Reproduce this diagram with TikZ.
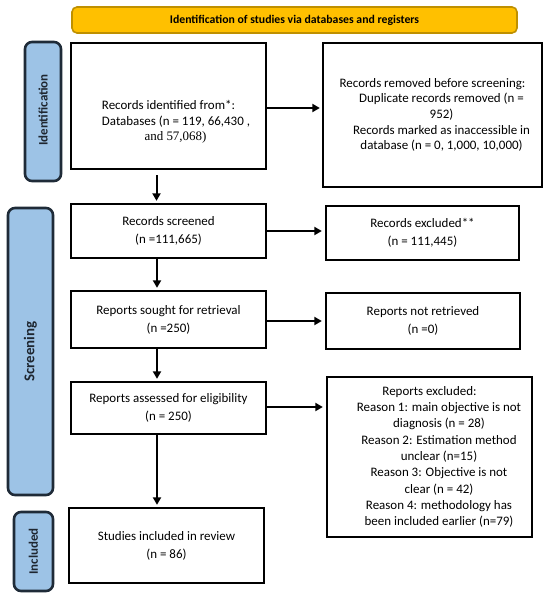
\documentclass[tikz,border=0pt]{standalone}
\usepackage{fontspec}
\setmainfont{Carlito}
\newfontfamily\serifpart{Liberation Serif}
\usetikzlibrary{arrows.meta}
\definecolor{sideblue}{HTML}{9DC3E6}
\definecolor{sideline}{HTML}{1F2B38}
\definecolor{sidetext}{HTML}{1E2630}
\definecolor{titlefill}{HTML}{FFC000}
\definecolor{titleline}{HTML}{BF9000}
\begin{document}
\begin{tikzpicture}[x=1bp,y=-1bp,
  box/.style={draw=black, line width=2.3bp, fill=white, inner sep=0pt, align=center,
    font=\fontsize{13}{18}\selectfont},
  txt/.style={inner sep=0pt, align=center},
  side/.style={draw=sideline, fill=sideblue, line width=2.6bp, rounded corners=7bp, inner sep=0pt},
  sidelabel/.style={rotate=90, text=sidetext, font=\bfseries\fontsize{13}{15}\selectfont},
  arr/.style={draw=black, line width=2bp, -{Triangle[length=7.5bp,width=8bp]}},
  titlebar/.style={draw=titleline, fill=titlefill, line width=1.6bp, rounded corners=5bp,
    inner sep=0pt, font=\bfseries\fontsize{11.8}{13}\selectfont}
]
\useasboundingbox[fill=white] (0,0) rectangle (550,600);

% title
\node[titlebar, minimum width=445bp, minimum height=26bp] (title) at (294.5,20)
  {Identification of studies via databases and registers};

% side labels
\node[side, minimum width=36bp, minimum height=139bp] (idside) at (43,111.5) {};
\node[sidelabel] (idlab) at (43,110) {Identification};
\node[side, minimum width=45bp, minimum height=287bp] (scrside) at (30.5,351.5) {};
\node[sidelabel, font=\bfseries\fontsize{15}{17}\selectfont] (scrlab) at (30.5,351.5) {Screening};
\node[side, minimum width=39bp, minimum height=79bp] (incside) at (33.5,551.5) {};
\node[sidelabel] (inclab) at (33.5,551.5) {Included};

% boxes
\node[box, minimum width=195bp, minimum height=126bp] (b1) at (168.5,106) {};
\node[txt, font=\fontsize{13}{15.5}\selectfont] (b1t) at (168.5,122)
  {Records identified from*:\\
   \hspace*{15bp}Databases (n = 119, 66,430 ,\\
   \hspace*{14bp}{\serifpart and 57,068)}};

\node[box, minimum width=219bp, minimum height=144bp,
  font=\fontsize{13}{15.75}\selectfont] (rem) at (432.5,115)
  {Records removed before screening:\\
   \hspace*{18bp}Duplicate records removed (n =\\
   \hspace*{18bp}952)\\
   \hspace*{18bp}Records marked as inaccessible in\\
   \hspace*{18bp}database (n = 0, 1,000, 10,000)};

\node[box, minimum width=195bp, minimum height=54bp] (scr) at (168.5,231)
  {Records screened\\(n =111,665)};
\node[box, minimum width=193bp, minimum height=54bp] (exc) at (422.5,233)
  {Records excluded**\\(n = 111,445)};

\node[box, minimum width=195bp, minimum height=57bp] (sought) at (168.5,319.5)
  {Reports sought for retrieval\\(n =250)};
\node[box, minimum width=194bp, minimum height=56bp] (notret) at (423,321)
  {Reports not retrieved\\(n =0)};

\node[box, minimum width=195bp, minimum height=52bp] (assess) at (168.5,408)
  {Reports assessed for eligibility\\(n = 250)};
\node[box, minimum width=205bp, minimum height=160bp,
  font=\fontsize{13}{16.4}\selectfont] (rexc) at (429.5,457)
  {Reports excluded:\\
   \hspace*{19bp}Reason 1: main objective is not\\
   \hspace*{19bp}diagnosis (n = 28)\\
   \hspace*{19bp}Reason 2: Estimation method\\
   \hspace*{19bp}unclear (n=15)\\
   \hspace*{19bp}Reason 3: Objective is not\\
   \hspace*{19bp}clear (n = 42)\\
   \hspace*{19bp}Reason 4: methodology has\\
   \hspace*{19bp}been included earlier (n=79)};

\node[box, minimum width=195bp, minimum height=75bp] (stud) at (166.5,545.5)
  {Studies included in review\\(n = 86)};

% connectors
\draw[arr, shorten >=2bp] ([yshift=-2bp]b1.east) -- ([yshift=-2bp]b1.east -| rem.west);
\draw[arr, shorten >=2bp] ([xshift=-12bp,yshift=-5bp]b1.south) -- ([xshift=-12bp]scr.north);
\draw[arr, shorten >=3bp] (scr.east) -- (scr.east -| exc.west);
\draw[arr, shorten >=2bp] ([xshift=-11.5bp]scr.south) -- ([xshift=-11.5bp]scr.south |- sought.north);
\draw[arr, shorten >=3bp] ([yshift=-1.5bp]sought.east) -- ([yshift=-1.5bp]sought.east -| notret.west);
\draw[arr, shorten >=2bp] ([xshift=-11.5bp]sought.south) -- ([xshift=-11.5bp]sought.south |- assess.north);
\draw[arr, shorten >=3bp] ([yshift=1bp]assess.east) -- ([yshift=1bp]assess.east -| rexc.west);
\draw[arr, shorten >=2bp] ([xshift=-11.5bp]assess.south) -- ([xshift=-11.5bp]assess.south |- stud.north);
\end{tikzpicture}
\end{document}
